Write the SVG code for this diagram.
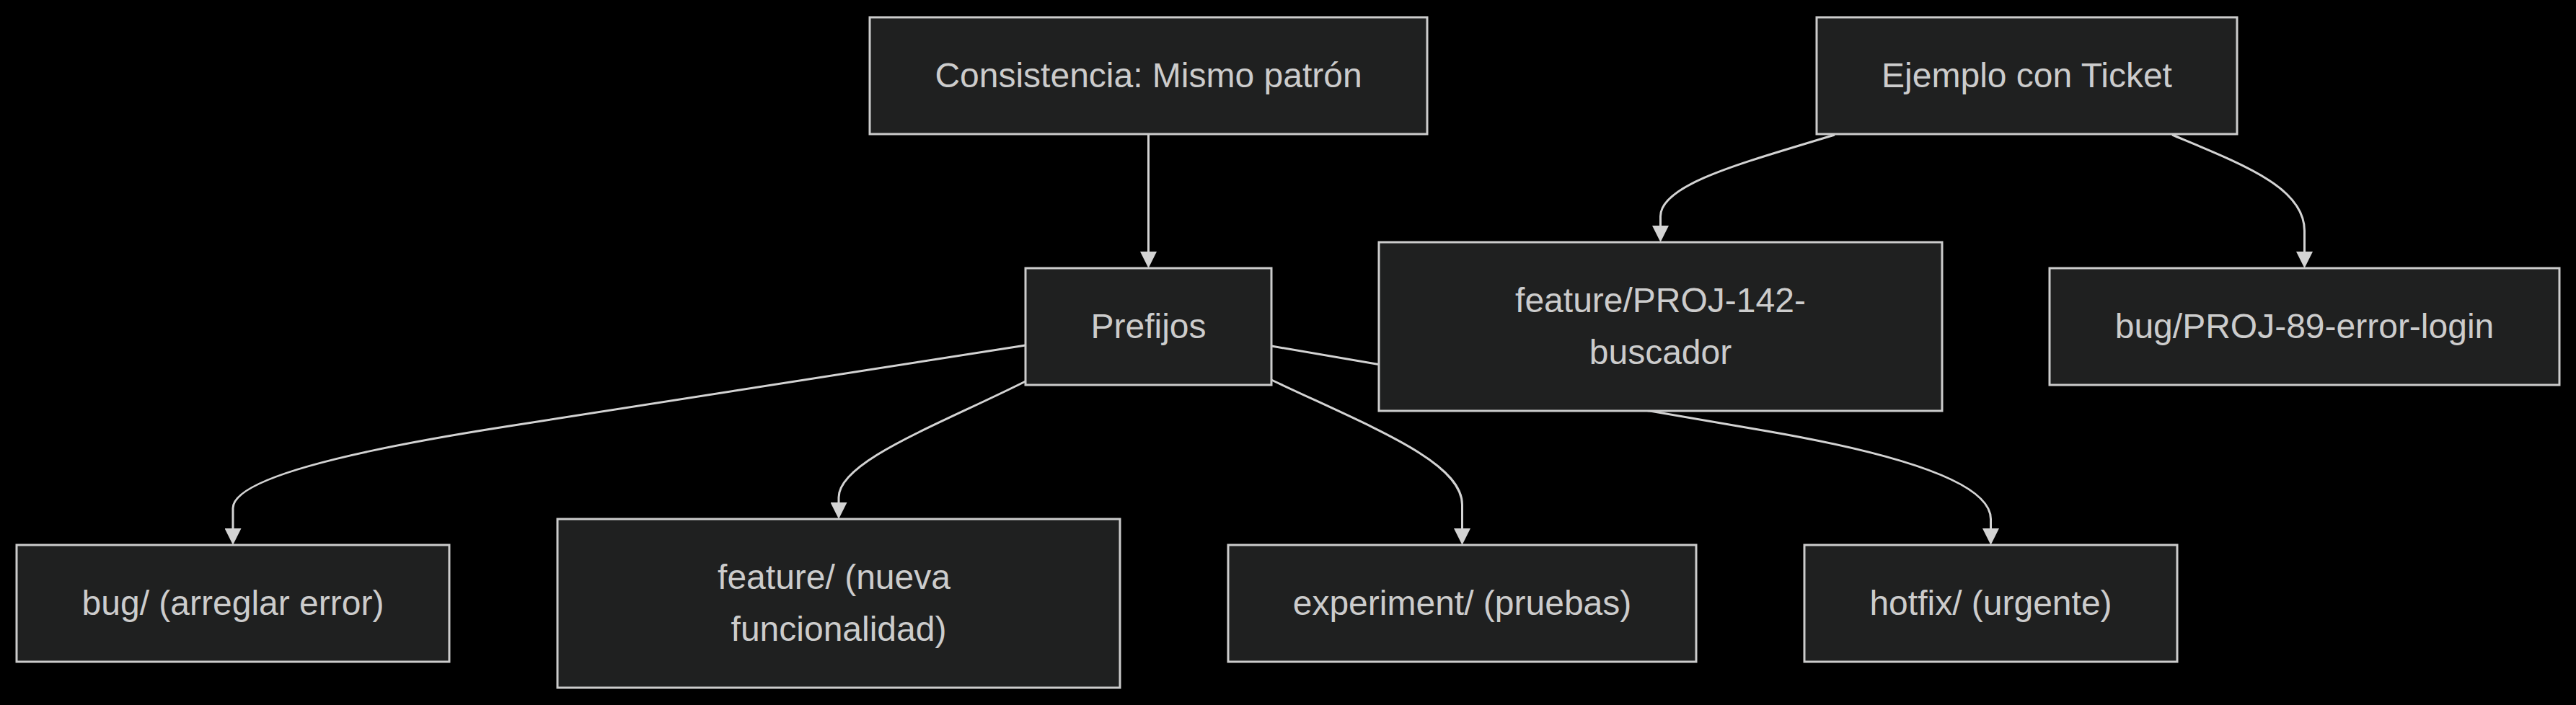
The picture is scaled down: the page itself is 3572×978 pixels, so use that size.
<svg xmlns="http://www.w3.org/2000/svg" width="3572" height="978" viewBox="0 0 3572 978">
<style>
.bg{fill:#000000}
.node rect{fill:#1f2020;stroke:#cccccc;stroke-width:3}
.node text{fill:#cccccc;font-family:"Liberation Sans",Arial,sans-serif;font-size:48px;text-anchor:middle}
.edge{fill:none;stroke:#d3d3d3;stroke-width:3}
</style>
<defs>
<marker id="arrow" viewBox="0 0 10 10" refX="0" refY="5" markerUnits="userSpaceOnUse" markerWidth="23" markerHeight="23" orient="auto">
<path d="M0,0 L10,5 L0,10 z" fill="#d3d3d3"/>
</marker>
</defs>
<rect class="bg" x="0" y="0" width="3572" height="978"/>
<g id="connectors">
<path class="edge" marker-end="url(#arrow)" d="M1592.5,186 L1592.5,349"/>
<path class="edge" marker-end="url(#arrow)" d="M1422,479 L700,592 Q323,651 323,705 L323,733"/>
<path class="edge" marker-end="url(#arrow)" d="M1422,529 C1300,590 1163,640 1163,690 L1163,697"/>
<path class="edge" marker-end="url(#arrow)" d="M1763,527 C1900,592 2027.5,640 2027.5,700 L2027.5,733"/>
<path class="edge" marker-end="url(#arrow)" d="M1763,480 L2450,598 Q2760.5,652 2760.5,720 L2760.5,733"/>
<path class="edge" marker-end="url(#arrow)" d="M2544,187 C2420,225 2302.5,255 2302.5,300 L2302.5,313"/>
<path class="edge" marker-end="url(#arrow)" d="M3012,187 C3110,228 3195.5,260 3195.5,320 L3195.5,349"/>
</g>
<g id="node-consistencia" class="node">
<rect x="1206" y="24" width="773" height="162"/>
<text x="1592.5" y="120.5">Consistencia: Mismo patrón</text>
</g>
<g id="node-prefijos" class="node">
<rect x="1422" y="372" width="341" height="162"/>
<text x="1592.5" y="468.5">Prefijos</text>
</g>
<g id="node-feature-proj" class="node">
<rect x="1912" y="336" width="781" height="234"/>
<text x="2302.5" y="432.5">feature/PROJ-142-</text>
<text x="2302.5" y="504.5">buscador</text>
</g>
<g id="node-ejemplo" class="node">
<rect x="2519" y="24" width="583" height="162"/>
<text x="2810.5" y="120.5">Ejemplo con Ticket</text>
</g>
<g id="node-bug-proj" class="node">
<rect x="2842" y="372" width="707" height="162"/>
<text x="3195.5" y="468.5">bug/PROJ-89-error-login</text>
</g>
<g id="node-bug" class="node">
<rect x="23" y="756" width="600" height="162"/>
<text x="323" y="852.5">bug/ (arreglar error)</text>
</g>
<g id="node-feature" class="node">
<rect x="773" y="720" width="780" height="234"/>
<text x="1156.5" y="816.5">feature/ (nueva</text>
<text x="1163" y="888.5">funcionalidad)</text>
</g>
<g id="node-experiment" class="node">
<rect x="1703" y="756" width="649" height="162"/>
<text x="2027.5" y="852.5">experiment/ (pruebas)</text>
</g>
<g id="node-hotfix" class="node">
<rect x="2502" y="756" width="517" height="162"/>
<text x="2760.5" y="852.5">hotfix/ (urgente)</text>
</g>
</svg>
